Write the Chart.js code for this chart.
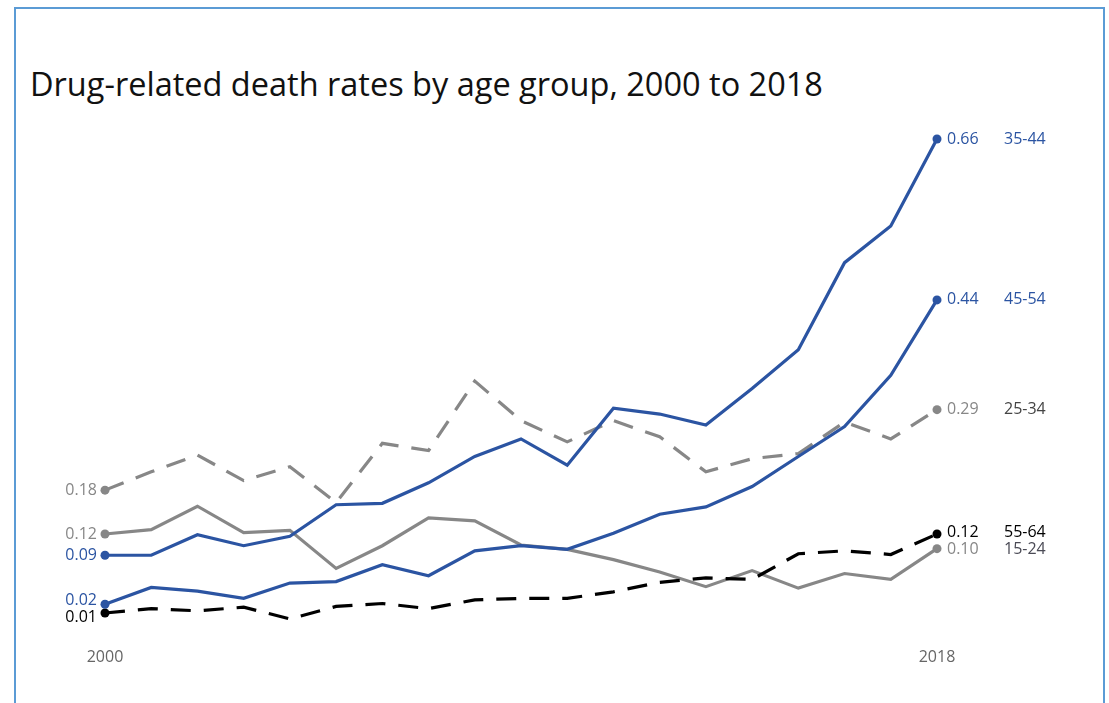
<!DOCTYPE html>
<html>
<head>
<meta charset="utf-8">
<script src="https://cdn.jsdelivr.net/npm/chart.js@4.4.1/dist/chart.umd.min.js"></script>
<style>
  html, body { margin: 0; padding: 0; background: #fff; }
  body { width: 1109px; height: 703px; position: relative; overflow: hidden; }
  .frame {
    position: absolute; left: 14px; top: 7px; width: 1087px; height: 800px;
    border: 2px solid #5b9bd5; box-sizing: content-box;
  }
  .title {
    position: absolute; left: 30px; top: 61px; margin: 0;
    font: 400 32.5px "Open Sans", sans-serif; color: #111; white-space: nowrap;
  }
  .chart-box { position: absolute; left: 0; top: 0; width: 1109px; height: 703px; }
</style>
</head>
<body>
<div class="frame"></div>
<h1 class="title" id="title">Drug-related death rates by age group, 2000 to 2018</h1>
<div class="chart-box"><canvas id="deathChart"></canvas></div>

<script>
const YEARS = ["2000", "2001", "2002", "2003", "2004", "2005", "2006", "2007", "2008", "2009",
               "2010", "2011", "2012", "2013", "2014", "2015", "2016", "2017", "2018"];

const AGE_35_44 = [0.091, 0.091, 0.119, 0.104, 0.117, 0.160, 0.162, 0.190, 0.226, 0.250,
                   0.214, 0.292, 0.284, 0.269, 0.319, 0.372, 0.491, 0.541, 0.66];
const AGE_45_54 = [0.024, 0.047, 0.042, 0.032, 0.053, 0.055, 0.078, 0.063, 0.097, 0.104,
                   0.099, 0.121, 0.147, 0.157, 0.185, 0.226, 0.267, 0.337, 0.44];
const AGE_25_34 = [0.18, 0.205, 0.228, 0.193, 0.212, 0.163, 0.244, 0.234, 0.329, 0.275,
                   0.246, 0.275, 0.253, 0.205, 0.223, 0.230, 0.273, 0.250, 0.29];
const AGE_55_64 = [0.012, 0.018, 0.015, 0.020, 0.004, 0.021, 0.025, 0.018, 0.030, 0.032,
                   0.032, 0.041, 0.054, 0.060, 0.058, 0.093, 0.097, 0.092, 0.12];
const AGE_15_24 = [0.12, 0.126, 0.158, 0.122, 0.125, 0.073, 0.104, 0.142, 0.138, 0.105,
                   0.099, 0.085, 0.068, 0.048, 0.070, 0.046, 0.066, 0.058, 0.10];

const BLUE  = "#2b54a2";
const GREY  = "#878787";
const BLACK = "#000000";
const LABEL_FONT = '16px "Open Sans", sans-serif';

// endpoints only get a dot
const endDot = ctx => (ctx.dataIndex === 0 || ctx.dataIndex === YEARS.length - 1) ? 4.5 : 0;

function series(label, data, color, nameColor, dashed) {
  return {
    label, data,
    borderColor: color, backgroundColor: color,
    pointBackgroundColor: color, pointBorderWidth: 0,
    borderWidth: 3.2, borderDash: dashed ? [20, 13] : [],
    pointRadius: endDot, pointHoverRadius: endDot,
    tension: 0, clip: false,
    nameColor,
  };
}

// push overlapping labels apart vertically
function spread(items, gap) {
  items.sort((a, b) => a.y - b.y);
  for (let pass = 0; pass < 20; pass++) {
    let moved = false;
    for (let i = 1; i < items.length; i++) {
      const d = items[i].y - items[i - 1].y;
      if (d < gap) {
        const shift = (gap - d) / 2;
        items[i - 1].y -= shift;
        items[i].y += shift;
        moved = true;
      }
    }
    if (!moved) break;
  }
  return items;
}

const endLabels = {
  id: "endLabels",
  afterDatasetsDraw(chart) {
    const { ctx, chartArea } = chart;
    const left = [], right = [];
    chart.data.datasets.forEach((ds, i) => {
      const pts = chart.getDatasetMeta(i).data;
      const first = pts[0], last = pts[pts.length - 1];
      left.push({ x: first.x, y: first.y, text: ds.data[0].toFixed(2), color: ds.borderColor });
      right.push({ x: last.x, y: last.y, text: ds.data[ds.data.length - 1].toFixed(2),
                   color: ds.borderColor, name: ds.label, nameColor: ds.nameColor });
    });
    ctx.save();
    ctx.font = LABEL_FONT;
    ctx.textBaseline = "middle";
    ctx.textAlign = "right";
    spread(left, 17).forEach(l => {
      ctx.fillStyle = l.color;
      ctx.fillText(l.text, l.x - 8, l.y);
    });
    ctx.textAlign = "left";
    spread(right, 17).forEach(r => {
      ctx.fillStyle = r.color;
      ctx.fillText(r.text, r.x + 10, r.y);
      ctx.fillStyle = r.nameColor;
      ctx.fillText(r.name, chartArea.right + 67, r.y);
    });
    ctx.restore();
  },
};

new Chart(document.getElementById("deathChart"), {
  type: "line",
  data: {
    labels: YEARS,
    datasets: [
      series("35-44", AGE_35_44, BLUE, BLUE, false),
      series("45-54", AGE_45_54, BLUE, BLUE, false),
      series("25-34", AGE_25_34, GREY, "#444444", true),
      series("55-64", AGE_55_64, BLACK, BLACK, true),
      series("15-24", AGE_15_24, GREY, "#4a4a55", false),
    ],
  },
  options: {
    responsive: true,
    maintainAspectRatio: false,
    animation: false,
    layout: { padding: { left: 105, right: 172, top: 139, bottom: 10 } },
    plugins: {
      legend: { display: false },
      tooltip: { enabled: false },
    },
    scales: {
      x: {
        offset: false,
        grid: { display: false, drawTicks: false },
        border: { display: false },
        ticks: {
          autoSkip: false, maxRotation: 0, padding: 26,
          color: "#666666",
          font: { family: "Open Sans", size: 16 },
          callback: (v, i) => (i === 0 || i === YEARS.length - 1) ? YEARS[i] : "",
        },
      },
      y: {
        display: false,
        min: 0,
        max: 0.66,
      },
    },
  },
  plugins: [endLabels],
});
</script>
</body>
</html>
